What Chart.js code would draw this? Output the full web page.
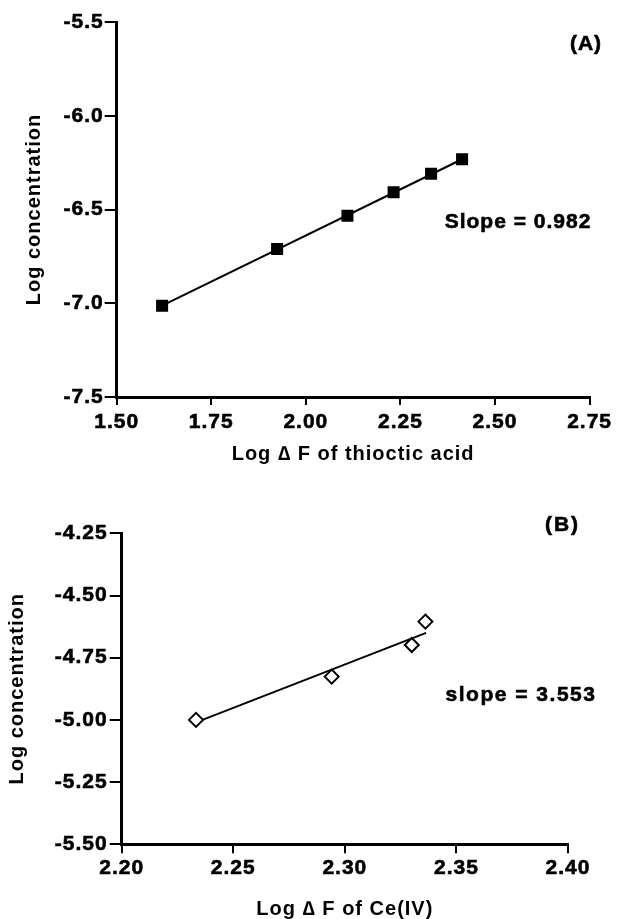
<!DOCTYPE html>
<html>
<head>
<meta charset="utf-8">
<script src="https://cdn.jsdelivr.net/npm/chart.js@4"></script>
<style>
  html, body { margin: 0; padding: 0; background: #fff; overflow: hidden; }
  canvas { position: absolute; left: 0; }
</style>
</head>
<body>
<canvas id="chartA" width="617" height="480" style="top:0"></canvas>
<canvas id="chartB" width="617" height="459" style="top:460px"></canvas>
<script>
// (A) thioctic acid
const logFA = [1.620, 1.924, 2.110, 2.232, 2.331, 2.413];
const logConcA = [-7.013, -6.711, -6.533, -6.408, -6.309, -6.232];
const fitXA = [1.620, 2.413];
const fitYA = [-7.013, -6.232];
const xTicksA = [1.50, 1.75, 2.00, 2.25, 2.50, 2.75];
const yTicksA = [-7.5, -7.0, -6.5, -6.0, -5.5];

// (B) Ce(IV)
const logFB = [2.2333, 2.2941, 2.3300, 2.3361];
const logConcB = [-5.000, -4.826, -4.699, -4.605];
const fitXB = [2.2333, 2.3364];
const fitYB = [-5.010, -4.650];
const xTicksB = [2.20, 2.25, 2.30, 2.35, 2.40];
const yTicksB = [-5.50, -5.25, -5.00, -4.75, -4.50, -4.25];

const FAMILY = '"Liberation Sans", Arial, sans-serif';
Chart.defaults.font.family = FAMILY;
Chart.defaults.color = '#000';

const spacing = {
  id: 'spacing',
  beforeUpdate(chart) { chart.ctx.letterSpacing = '1px'; },
  beforeDraw(chart) { chart.ctx.letterSpacing = '1px'; }
};

const notes = {
  id: 'notes',
  afterDraw(chart, args, opts) {
    const ctx = chart.ctx;
    ctx.save();
    ctx.fillStyle = '#000';
    ctx.strokeStyle = '#000';
    ctx.lineWidth = 0.6;
    ctx.font = 'bold 21px ' + FAMILY;
    ctx.textAlign = 'center';
    ctx.textBaseline = 'alphabetic';
    opts.items.forEach(t => {
      ctx.letterSpacing = t.spacing || '1px';
      ctx.fillText(t.text, t.x, t.y);
      ctx.strokeText(t.text, t.x, t.y);
    });
    ctx.restore();
  }
};

function pts(xs, ys) {
  return xs.map((x, i) => ({x: x, y: ys[i]}));
}

function axis(ticks, digits, tickLen, pad, fitSize, horiz, title) {
  return {
    type: 'linear',
    min: ticks[0],
    max: ticks[ticks.length - 1],
    afterBuildTicks: s => { s.ticks = ticks.map(v => ({value: v})); },
    afterFit: s => { if (horiz) s.height = fitSize; else s.width = fitSize; },
    grid: {drawOnChartArea: false, drawTicks: true, tickLength: tickLen, color: '#000', lineWidth: 2},
    border: {display: true, color: '#000', width: 3},
    ticks: {
      color: '#000',
      padding: pad,
      font: {size: 21, weight: 'bold'},
      textStrokeColor: '#000',
      textStrokeWidth: 0.6,
      callback: v => Number(v).toFixed(digits)
    },
    title: title
  };
}

function makeChart(id, cfg) {
  return new Chart(document.getElementById(id), {
    type: 'scatter',
    data: {datasets: cfg.datasets},
    options: {
      responsive: false,
      animation: false,
      events: [],
      layout: {padding: cfg.padding},
      scales: {x: cfg.x, y: cfg.y},
      plugins: {
        legend: {display: false},
        tooltip: {enabled: false},
        notes: {items: cfg.notes}
      }
    },
    plugins: [spacing, notes]
  });
}

makeChart('chartA', {
  padding: {top: 22, right: 22.3, left: 0, bottom: 0},
  datasets: [
    {data: pts(logFA, logConcA), pointStyle: 'rect', pointRadius: 8.5,
     backgroundColor: '#000', borderColor: '#000', borderWidth: 0},
    {data: pts(fitXA, fitYA), showLine: true, pointRadius: 0,
     borderColor: '#000', borderWidth: 2}
  ],
  x: axis(xTicksA, 2, 8, 5, 83, true,
    {display: true, text: 'Log \u2206 F of thioctic acid', color: '#000',
     font: {size: 20, weight: 'bold', lineHeight: 1}, padding: {top: 0, bottom: 16}}),
  y: axis(yTicksA, 1, 12, 1, 116.7, false,
    {display: true, text: 'Log concentration', color: '#000',
     font: {size: 20, weight: 'bold', lineHeight: 1}, padding: {top: 24, bottom: 0}}),
  notes: [
    {text: '(A)', x: 586, y: 50},
    {text: 'Slope = 0.982', x: 518, y: 228}
  ]
});

makeChart('chartB', {
  padding: {top: 73.3, right: 49, left: 0, bottom: 0},
  datasets: [
    {data: pts(logFB, logConcB), pointStyle: 'rectRot', pointRadius: 7,
     backgroundColor: '#fff', borderColor: '#000', borderWidth: 2},
    {data: pts(fitXB, fitYB), showLine: true, pointRadius: 0,
     borderColor: '#000', borderWidth: 2}
  ],
  x: axis(xTicksB, 2, 9, 2, 74.7, true,
    {display: true, text: 'Log \u2206 F of Ce(IV)', color: '#000',
     font: {size: 20, weight: 'bold', lineHeight: 1}, padding: {top: 0, bottom: 0}}),
  y: axis(yTicksB, 2, 12, 2, 121.7, false,
    {display: true, text: 'Log concentration', color: '#000',
     font: {size: 20, weight: 'bold', lineHeight: 1}, padding: {top: 7, bottom: 0}}),
  notes: [
    {text: '(B)', x: 562.5, y: 71, spacing: '2px'},
    {text: 'slope = 3.553', x: 521, y: 241, spacing: '1.5px'}
  ]
});
</script>
</body>
</html>
